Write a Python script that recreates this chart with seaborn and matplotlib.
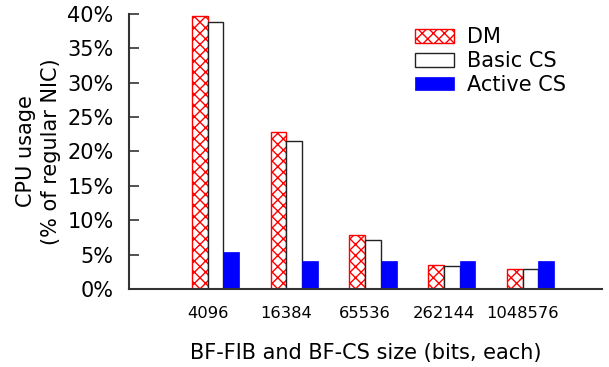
import matplotlib
matplotlib.use("Agg")
import matplotlib.pyplot as plt
import seaborn as sns
import pandas as pd
from matplotlib.ticker import PercentFormatter

sizes = ["4096", "16384", "65536", "262144", "1048576"]
dm = [39.7, 22.9, 7.8, 3.5, 2.9]
basic_cs = [38.9, 21.5, 7.1, 3.3, 2.9]
active_cs = [5.4, 4.1, 4.1, 4.1, 4.1]
series = ["DM", "Basic CS", "Active CS"]

df = pd.DataFrame({
    "size": sizes * 3,
    "usage": dm + basic_cs + active_cs,
    "scheme": [s for s in series for _ in sizes],
})

sns.set_theme(style="white")
plt.rcParams["font.family"] = ["DejaVu Sans"]
plt.rcParams.update({
    "text.color": "black",
    "axes.labelcolor": "black",
    "xtick.color": "black",
    "ytick.color": "black",
    "ytick.direction": "in",
    "ytick.left": True,
    "hatch.linewidth": 1.0,
})

fig = plt.figure(figsize=(6.09, 3.67), dpi=100)
ax = fig.add_axes([0.2118, 0.2125, 0.9885 - 0.2118, 0.9619 - 0.2125])

sns.barplot(data=df, x="size", y="usage", hue="scheme", order=sizes,
            hue_order=series, width=0.6, errorbar=None, legend=False,
            palette=["white", "white", "blue"], saturation=1, ax=ax)

# per-series fill, outline and hatch
styles = [
    dict(facecolor="white", edgecolor="red", hatch="xxx", linewidth=1.0),
    dict(facecolor="white", edgecolor="#222222", hatch=None, linewidth=1.0),
    dict(facecolor="blue", edgecolor="blue", hatch=None, linewidth=0.5),
]
for cont, st in zip(ax.containers, styles):
    for p in cont.patches:
        p.set_facecolor(st["facecolor"])
        p.set_edgecolor(st["edgecolor"])
        p.set_linewidth(st["linewidth"])
        if st["hatch"]:
            p.set_hatch(st["hatch"])

ax.set_xlim(-1.1, 4.91)
ax.set_ylim(0, 40)
ax.set_yticks(range(0, 41, 5))
ax.yaxis.set_major_formatter(PercentFormatter(decimals=0))
ax.set_xticks([i - 0.1 for i in range(len(sizes))])
ax.set_xticklabels(sizes)
ax.tick_params(axis="y", which="major", direction="in", length=7.5, width=1.2,
               color="#333333", labelsize=15, pad=11, left=True)
ax.tick_params(axis="x", length=0, labelsize=11.8, pad=12)

for side in ["top", "right"]:
    ax.spines[side].set_visible(False)
for side in ["left", "bottom"]:
    ax.spines[side].set_color("#333333")
    ax.spines[side].set_linewidth(1.5)

ax.set_xlabel("BF-FIB and BF-CS size (bits, each)", fontsize=15, labelpad=16)
ax.set_ylabel("CPU usage\n(% of regular NIC)", fontsize=15, labelpad=5,
              linespacing=1.3)

ax.legend(ax.containers, series, loc="upper left", bbox_to_anchor=(0.605, 0.953),
          frameon=False, fontsize=15, handlelength=1.85, handleheight=0.65,
          handletextpad=0.65, labelspacing=0.19, borderaxespad=0, borderpad=0)

fig.savefig("out.png", dpi=100)
